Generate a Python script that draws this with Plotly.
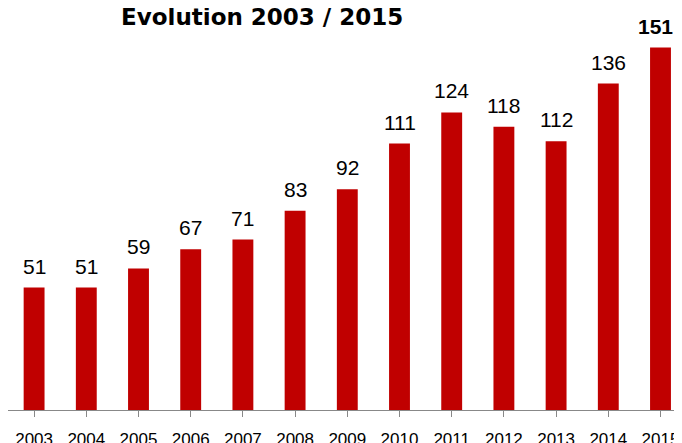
import plotly.graph_objects as go

years = ["2003", "2004", "2005", "2006", "2007", "2008", "2009",
         "2010", "2011", "2012", "2013", "2014", "2015"]
values = [51, 51, 59, 67, 71, 83, 92, 111, 124, 118, 112, 136, 151]
title_text = "Evolution 2003 / 2015"

# The page body has an 8px margin, so the figure is drawn from (8, 8).
W, H = 674, 435
left, bottom = 0, 33
plot_w = W - left
plot_h = H - bottom
cat_px = 52.2
xmax = -0.5 + plot_w / cat_px
ymax = plot_h / 2.4

fig = go.Figure()
fig.add_trace(go.Bar(
    x=list(range(len(years))), y=values,
    marker=dict(color="#C00000", line=dict(width=0)),
    width=0.4, hoverinfo="skip",
))

for i, v in enumerate(values):
    last = i == len(values) - 1
    fig.add_annotation(
        x=i, y=v, xref="x", yref="y",
        text=f"<b>{v}</b>" if last else str(v),
        showarrow=False, yanchor="bottom", yshift=8,
        xshift=-5 if last else 0,
        font=dict(family="Liberation Sans, Arial", size=21, color="#000000"),
    )

fig.add_annotation(
    x=254 / plot_w, y=1 - 9 / plot_h,
    xref="paper", yref="paper",
    text=f"<b>{title_text}</b>", showarrow=False,
    xanchor="center", yanchor="middle",
    font=dict(family="Comic Sans MS, DejaVu Sans", size=23, color="#000000"),
)

fig.update_layout(
    width=W, height=H,
    margin=dict(l=left, r=0, t=0, b=bottom, pad=0, autoexpand=False),
    plot_bgcolor="white", paper_bgcolor="white",
    showlegend=False,
    xaxis=dict(
        range=[-0.5, xmax], tickmode="array",
        tickvals=list(range(len(years))), ticktext=years,
        showgrid=False, zeroline=False, automargin=False,
        showline=True, linecolor="#888888", linewidth=1,
        ticks="outside", tickson="boundaries", ticklen=6, tickcolor="#888888", tickwidth=1,
        tickfont=dict(family="Liberation Sans, Arial", size=17, color="#000000"),
        ticklabelstandoff=8,
        fixedrange=True,
    ),
    yaxis=dict(range=[0, ymax], visible=False, fixedrange=True, automargin=False),
)

fig.write_html("out.html")
